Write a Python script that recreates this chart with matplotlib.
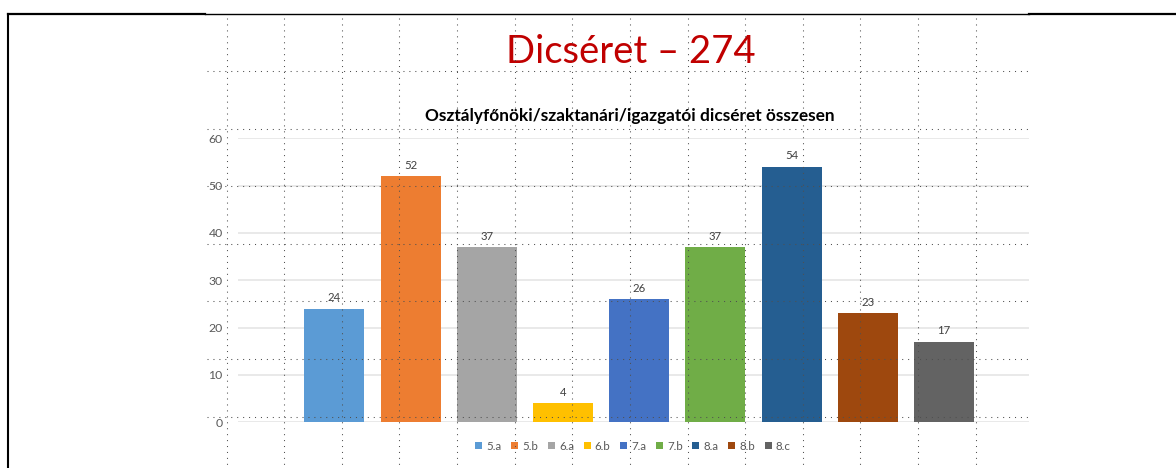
import matplotlib
matplotlib.use("Agg")
import matplotlib.pyplot as plt
from matplotlib.lines import Line2D
from matplotlib.patches import Patch

categories = ["5.a", "5.b", "6.a", "6.b", "7.a", "7.b", "8.a", "8.b", "8.c"]
values = [24, 52, 37, 4, 26, 37, 54, 23, 17]
colors = ["#5B9BD5", "#ED7D31", "#A5A5A5", "#FFC000", "#4472C4",
          "#70AD47", "#255E91", "#9E480E", "#636363"]
yticks = [0, 10, 20, 30, 40, 50, 60]
title = "Dicséret – 274"
subtitle = "Osztályfőnöki/szaktanári/igazgatói dicséret összesen"

W, H = 1176, 468
plt.rcParams['font.family'] = ['Lato', 'DejaVu Sans']
fig = plt.figure(figsize=(W / 100, H / 100), dpi=100)

def fx(px):
    return px / W

def fy(py):
    return 1 - py / H

# main axes: plot area in pixels x 238..1029, y 138.3 (60) .. 422.3 (0)
ax_l, ax_r, ax_t, ax_b = 238, 1029, 138.3, 422.3
ax = fig.add_axes([fx(ax_l), fy(ax_b), (ax_r - ax_l) / W, (ax_b - ax_t) / H])
x = list(range(len(categories)))
ax.bar(x, values, width=0.787, color=colors, zorder=3)
ax.set_ylim(0, 60)
# category spacing 76.2px, first centre at 334.3px
sp = 76.2
ax.set_xlim(-(334.3 - ax_l) / sp, 8 + (ax_r - 944.0) / sp)
ax.set_yticks(yticks)
ax.yaxis.grid(True, color="#e3e3e3", linewidth=1.1, zorder=0)
ax.set_axisbelow(True)
ax.set_xticks([])
ax.tick_params(axis='y', length=0, pad=11, labelsize=8.8, labelcolor="#595959")
for s in ax.spines.values():
    s.set_visible(False)
for xi, v in zip(x, values):
    ax.annotate(str(v), (xi, v), xytext=(0, 8), textcoords="offset points",
                ha="center", va="center", fontsize=8.2, color="#404040")

# titles
fig.text(fx(630.5), fy(63), title, ha="center", va="baseline",
         fontsize=27.5, color="#C00000")
fig.text(fx(630), fy(121.5), subtitle, ha="center", va="baseline",
         fontsize=12.4, fontweight="bold", color="#000000")

# legend
handles = [Patch(facecolor=c, edgecolor="none") for c in colors]
leg = fig.legend(handles, categories, loc="center", bbox_to_anchor=(fx(633), fy(446)),
                 ncol=len(categories), frameon=False, fontsize=8.3,
                 handlelength=0.6, handleheight=0.6, handletextpad=0.35,
                 columnspacing=0.85, labelcolor="#595959")

# slide borders
fig.add_artist(Line2D([fx(8), fx(8)], [fy(14), fy(468)], color="black", lw=1.5))
fig.add_artist(Line2D([fx(8), fx(205)], [fy(14), fy(14)], color="black", lw=1.6))
fig.add_artist(Line2D([fx(205), fx(1029)], [fy(14), fy(14)], color="black", lw=1.0))
fig.add_artist(Line2D([fx(1029), fx(1176)], [fy(14), fy(14)], color="black", lw=1.6))

# dotted guide grid overlay
gs = 57.6
vx = [226.7 + k * gs for k in range(14)]
hy = [71.0 + k * gs for k in range(7)]
for xv in vx:
    fig.add_artist(Line2D([fx(xv), fx(xv)], [fy(18), fy(468)], color="#505050",
                          lw=0.75, linestyle=(0, (1, 4.7)), zorder=10))
for yv in hy:
    fig.add_artist(Line2D([fx(207), fx(1029)], [fy(yv), fy(yv)], color="#505050",
                          lw=0.75, linestyle=(0, (1, 4.7)), zorder=10))

fig.savefig("out.png", dpi=100)
